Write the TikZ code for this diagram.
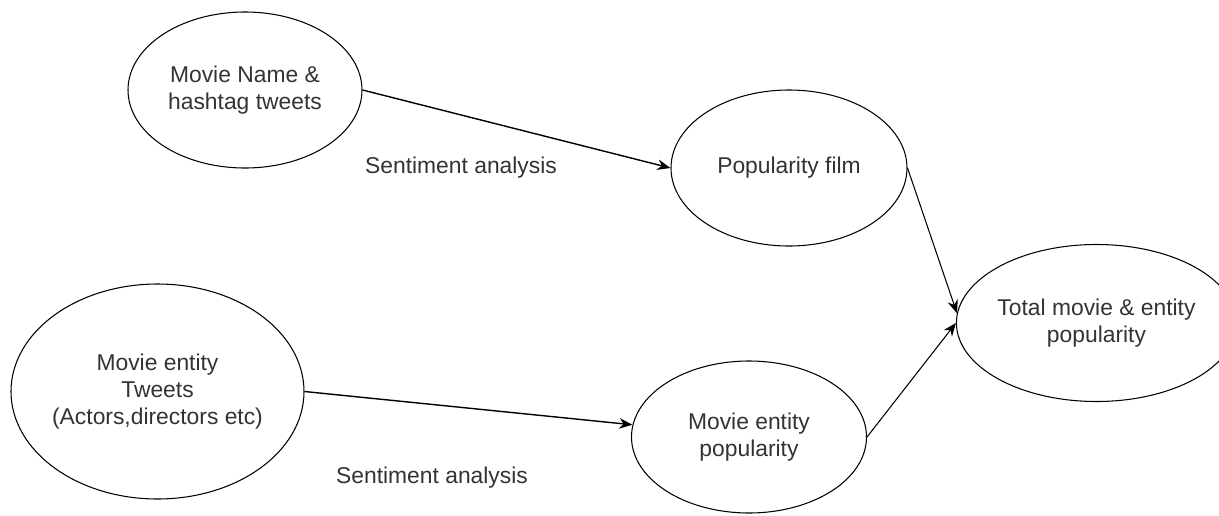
\documentclass[tikz,border=0pt]{standalone}
\usepackage{fontspec}
\setmainfont{Liberation Sans}
\usetikzlibrary{shapes.geometric,arrows.meta}
\definecolor{txtgray}{HTML}{333333}

\begin{document}
\begin{tikzpicture}[
    blob/.style={ellipse, draw, line width=0.6pt, inner sep=0pt, align=center,
        text=txtgray, font=\fontsize{13}{15.5}\selectfont},
    note/.style={text=txtgray, font=\fontsize{13}{15.5}\selectfont},
    flow/.style={-{Stealth[length=7.5pt,width=6pt]}, line width=0.8pt},
    thinflow/.style={-{Stealth[length=7.5pt,width=6pt]}, line width=0.6pt}
  ]
            \useasboundingbox (0, 0) rectangle (24.38, -10.30);

            \node[blob, minimum width=4.68cm, minimum height=3.12cm] (name) at (4.9, -1.8) {Movie Name \&\\hashtag tweets};
            \node[blob, minimum width=4.72cm, minimum height=3.12cm] (film) at (15.78, -3.36) {Popularity film};
            \node[blob, minimum width=4.68cm, minimum height=3.14cm] (total) at (21.93, -6.46) {Total movie \& entity\\popularity};
            \node[blob, minimum width=5.86cm, minimum height=4.3cm, inner xsep=-4pt] (entity) at (3.15, -7.83) {Movie entity\\Tweets\\(Actors,directors etc)};
            \node[blob, minimum width=4.7cm, minimum height=3.04cm] (entpop) at (14.98, -8.74) {Movie entity\\popularity};

            \node[note] (sent1) at (9.22, -3.36) {Sentiment analysis};
            \node[note] (sent2) at (8.64, -9.56) {Sentiment analysis};

            \draw[flow] (name.east) to (film.west);
            \draw[flow] (entity.east) to (entpop.174);
            \draw[thinflow] (film.east) to (total.176);
            \draw[thinflow] (entpop.east) to (total.west);
        \end{tikzpicture}
\end{document}
